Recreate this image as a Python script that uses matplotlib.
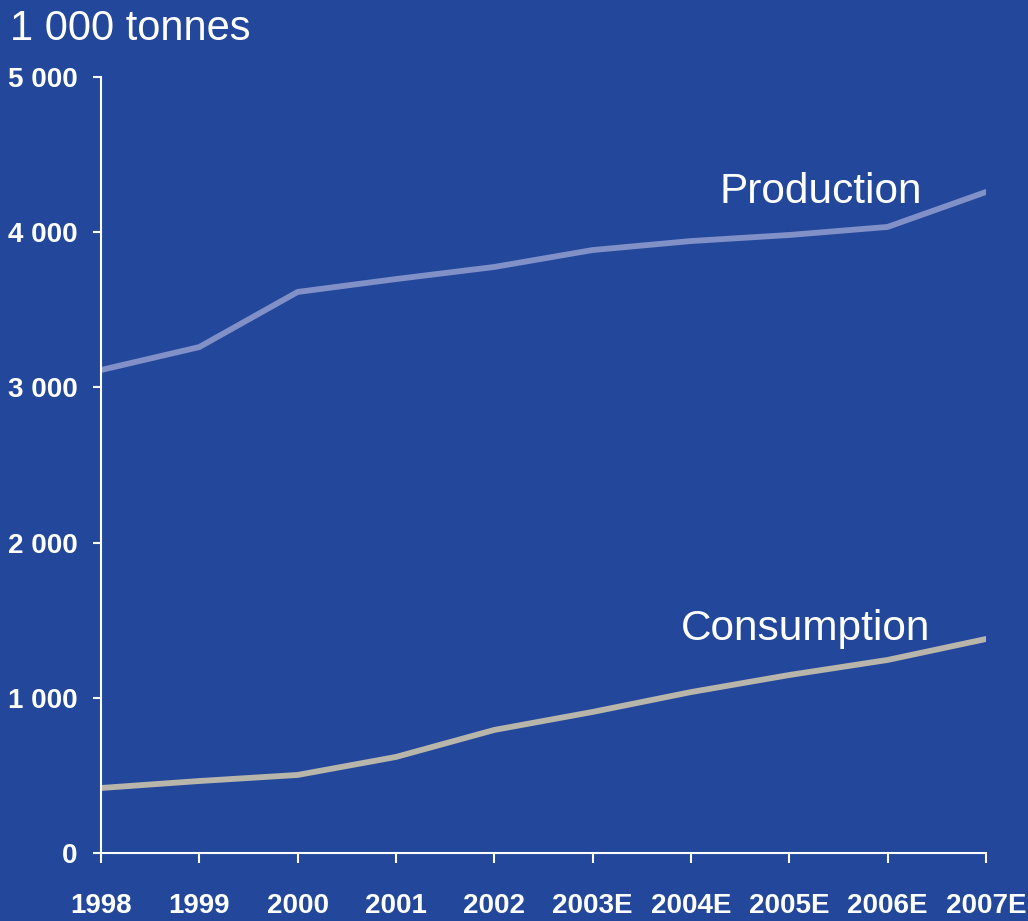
import matplotlib
matplotlib.use("Agg")
import matplotlib.pyplot as plt

years = ["1998", "1999", "2000", "2001", "2002", "2003E", "2004E", "2005E", "2006E", "2007E"]
production = [3112, 3260, 3615, 3698, 3776, 3885, 3943, 3982, 4034, 4259]
consumption = [419, 464, 503, 619, 793, 909, 1037, 1147, 1244, 1379]
y_ticks = [0, 1000, 2000, 3000, 4000, 5000]
y_labels = ["0", "1 000", "2 000", "3 000", "4 000", "5 000"]

bg = "#22479b"
text_font = ["Liberation Sans", "DejaVu Sans"]

fig = plt.figure(figsize=(10.28, 9.21), dpi=100, facecolor=bg)
ax = fig.add_axes([0.0982, 0.0738, 0.8609, 0.8426])
ax.set_facecolor(bg)

x = list(range(len(years)))
ax.plot(x, production, color="#8190c6", lw=4.2, solid_capstyle="round")
ax.plot(x, consumption, color="#b8b5aa", lw=4.2, solid_capstyle="round")

ax.set_xlim(0, len(years) - 1)
ax.set_ylim(0, 5000)
ax.set_xticks(x)
ax.set_xticklabels(years)
ax.set_yticks(y_ticks)
ax.set_yticklabels(y_labels)

for side in ["top", "right"]:
    ax.spines[side].set_visible(False)
for side in ["left", "bottom"]:
    ax.spines[side].set_color("white")
    ax.spines[side].set_linewidth(1.5)

ax.tick_params(axis="x", colors="white", length=7, width=1.5, pad=22)
ax.tick_params(axis="y", colors="white", length=6, width=1.5, pad=11)
for lbl in ax.get_xticklabels() + ax.get_yticklabels():
    lbl.set_family(text_font)
    lbl.set_fontweight("bold")
    lbl.set_fontsize(20)

ax.text(6.29, 4188, "Production", color="white", fontsize=30.5, family=text_font,
        va="baseline", ha="left")
ax.text(5.90, 1372, "Consumption", color="white", fontsize=30.5, family=text_font,
        va="baseline", ha="left")
fig.text(10 / 1028, 1 - 40 / 921, "1 000 tonnes", color="white", fontsize=30,
         family=text_font, va="baseline", ha="left")

fig.savefig("out.png", dpi=100, facecolor=bg)
